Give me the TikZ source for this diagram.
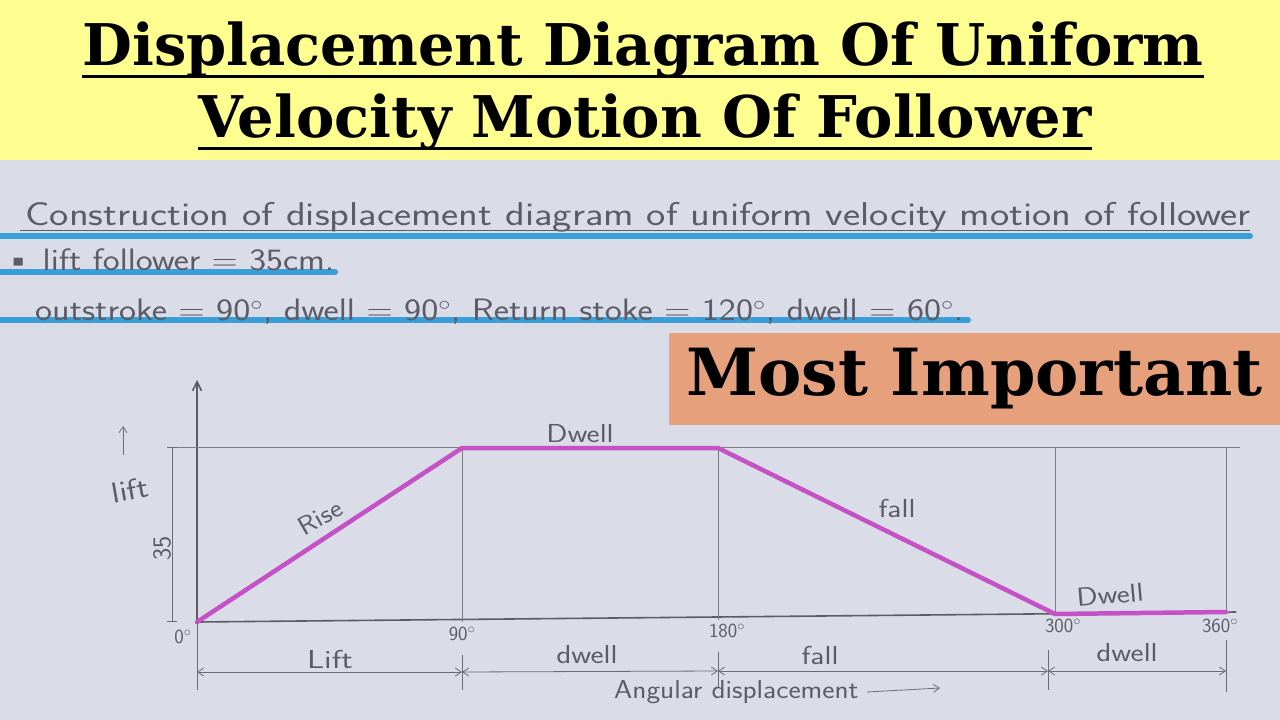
\documentclass[tikz,border=0pt]{standalone}
\usepackage{fontspec}
\usepackage{tikz}
\usetikzlibrary{arrows.meta, positioning}

\newfontfamily\titlefont{DejaVu Serif}
\definecolor{bandyellow}{HTML}{FDFD90}
\definecolor{paper}{HTML}{DADCE7}
\definecolor{salmon}{HTML}{E6A07C}
\definecolor{marker}{HTML}{3A9FD9}
\definecolor{pencil}{HTML}{5C5C68}
\definecolor{curve}{HTML}{C452C6}

% handwriting is wider than the font
\newcommand{\wide}[2][1.2]{\scalebox{#1}[1]{#2}}

\begin{document}
\begin{tikzpicture}[x=1pt, y=-1pt,
    hand/.style={text=pencil, font=\sffamily\fontsize{26}{28}\selectfont, inner sep=0pt},
    small/.style={hand, font=\sffamily\fontsize{20}{22}\selectfont},
    note/.style={text=pencil, font=\sffamily\fontsize{31}{33}\selectfont, inner sep=0pt, anchor=base west},
    guide/.style={draw=pencil!80, line width=0.7pt},
    dimline/.style={draw=pencil!90, line width=0.8pt},
    highlight/.style={draw=marker, line width=6pt, line cap=round},
    profile/.style={draw=curve, line width=4.5pt, line join=round, line cap=round},
    barb/.style={dimline, {Straight Barb[length=6pt, width=8pt]}-{Straight Barb[length=6pt, width=8pt]}}]

    % Background: yellow band and paper
    \useasboundingbox (0,0) rectangle (1280,720);
    \fill[paper] (0,160) rectangle (1280,720);
    \fill[bandyellow] (0,0) rectangle (1280,160);

    % Title
    \node[anchor=base, inner sep=0pt, font=\titlefont\bfseries\fontsize{57.5}{62}\selectfont] (title1) at (643,65) {Displacement Diagram Of Uniform};
    \node[anchor=base, inner sep=0pt, font=\titlefont\bfseries\fontsize{57.5}{62}\selectfont] (title2) at (645,137) {Velocity Motion Of Follower};
    \draw[line width=3pt] ([yshift=-11pt]title1.base west) -- ([yshift=-11pt]title1.base east);
    \draw[line width=3pt] ([yshift=-11pt]title2.base west) -- ([yshift=-11pt]title2.base east);

    % Handwritten data
    \draw[highlight] (0,236) -- (1250,236);
    \draw[highlight] (0,272) -- (335,272);
    \draw[highlight] (0,320) -- (968,320);
    \node[note, font=\sffamily\fontsize{33}{35}\selectfont] (line1) at (25,225) {\wide[1.24]{Construction of displacement diagram of uniform velocity motion of follower}};
    \draw[pencil, line width=1pt] (20,230) -- (1250,230);
    \node[note] (line2) at (5,270) {\wide[1.16]{\textbullet\ lift follower = 35cm.}};
    \node[note] (line3) at (35,320) {\wide[1.17]{outstroke = 90$^\circ$, dwell = 90$^\circ$, Return stoke = 120$^\circ$, dwell = 60$^\circ$.}};

    % Most important tag
    \node[fill=salmon, minimum width=611pt, minimum height=92pt, inner sep=0pt,
          font=\titlefont\bfseries\fontsize{65}{70}\selectfont] (tag) at (974.5,379) {Most Important};

    % Key points of the diagram
    \coordinate (o) at (197,622);
    \coordinate (ytop) at (197,380);
    \coordinate (a90) at (462,622);
    \coordinate (b90) at (462,448);
    \coordinate (a180) at (718,620);
    \coordinate (b180) at (718,448);
    \coordinate (a300) at (1055,614);
    \coordinate (b300) at (1055,447);
    \coordinate (a360) at (1226,612);
    \coordinate (b360) at (1226,447);
    \coordinate (xend) at (1236,612);
    \coordinate (tend) at (1240,447);

    % Axes and guide lines
    \draw[pencil, line width=1.6pt, -{Straight Barb[length=9pt, width=9pt]}] (o) -- (ytop);
    \draw[pencil, line width=1.6pt] (o) -- (xend);
    \draw[guide] (170,447) -- (tend);
    \foreach \p in {90,180,300,360} {
        \draw[guide] (a\p) -- (b\p);
    }

    % Displacement profile
    \draw[profile] (o) -- (b90) -- (b180) -- (a300) -- (a360);
    \node[hand, rotate=30] (rise) at (320,517) {\wide[1.1]{Rise}};
    \node[hand] (dwell1) at (580,434) {\wide{Dwell}};
    \node[hand] (fall1) at (897,508) {\wide{fall}};
    \node[hand, rotate=5] (dwell2) at (1110,595) {\wide{Dwell}};

    % Angles
    \node[small] (d0) at (183,637) {0$^\circ$};
    \node[small] (d90) at (462,634) {90$^\circ$};
    \node[small] (d180) at (727,631) {180$^\circ$};
    \node[small] (d300) at (1063,626) {300$^\circ$};
    \node[small] (d360) at (1220,626) {360$^\circ$};

    % Lift dimension
    \coordinate (l1) at (172,447);
    \coordinate (l2) at (172,622);
    \draw[dimline, {Bar[width=10pt]}-{Bar[width=10pt]}] (l1) -- (l2);
    \node[hand, rotate=90] (h35) at (162,548) {35};
    \node[hand, rotate=10, font=\sffamily\fontsize{29}{31}\selectfont] (lift) at (130,490) {\wide{lift}};
    \coordinate (u1) at (123,455);
    \coordinate (u2) at (123,426);
    \draw[dimline, -{Straight Barb[length=6pt, width=8pt]}] (u1) -- (u2);

    % Angular dimension
    \draw[dimline] (197,622) -- (197,690);
    \draw[dimline] (462,655) -- (462,690);
    \draw[dimline] (718,652) -- (718,688);
    \draw[dimline] (1048,650) -- (1048,690);
    \draw[dimline] (1226,640) -- (1226,692);
    \coordinate (s0) at (197,672);
    \coordinate (s90) at (462,672);
    \coordinate (s180) at (718,671);
    \coordinate (s300) at (1048,671);
    \coordinate (s360) at (1226,671);
    \draw[barb] (s0) -- (s90);
    \draw[barb] (s90) -- (s180);
    \draw[barb] (s180) -- (s300);
    \draw[barb] (s300) -- (s360);
    \node[hand] (seg1) at (330,659) {\wide[1.3]{Lift}};
    \node[hand] (seg2) at (587,655) {\wide{dwell}};
    \node[hand] (seg3) at (820,655) {\wide{fall}};
    \node[hand] (seg4) at (1127,653) {\wide{dwell}};
    \node[hand, anchor=west] (angdisp) at (614,692) {\wide[1.12]{Angular displacement}};
    \coordinate (ar) at (940,688);
    \draw[dimline, -{Straight Barb[length=6pt, width=8pt]}] ([xshift=8pt]angdisp.east) -- (ar);

\end{tikzpicture}
\end{document}
